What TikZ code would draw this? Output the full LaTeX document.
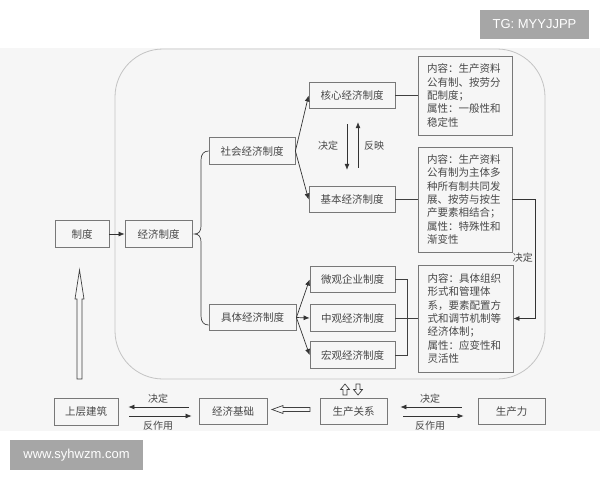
\documentclass[tikz,border=0pt]{standalone}
\usepackage{fontspec}
\newfontfamily\cjk{Noto Sans CJK SC}
\newfontfamily\wm{Liberation Sans}
\usetikzlibrary{calc,arrows.meta}
\definecolor{panel}{RGB}{246,246,246}
\definecolor{boxline}{RGB}{120,120,120}
\definecolor{txt}{RGB}{72,72,72}
\definecolor{wmgray}{RGB}{166,166,166}
\definecolor{frameline}{RGB}{195,195,195}
\begin{document}
\begin{tikzpicture}[x=1pt,y=-1pt,
  box/.style={draw=boxline,line width=0.8pt,text=txt,font=\cjk\fontsize{10.5}{12}\selectfont,inner sep=0pt,minimum height=26.5pt},
  content/.style={draw=boxline,line width=0.8pt,text=txt,font=\cjk\fontsize{10.5}{13.3}\selectfont,text width=76pt,align=left,inner xsep=9pt,inner ysep=0pt,minimum width=94pt},
  arr/.style={draw=black!80,line width=0.7pt,-{Latex[length=6pt,width=5pt]}},
  link/.style={draw=black!75,line width=0.7pt},
  lbl/.style={text=txt,font=\cjk\fontsize{10}{12}\selectfont,inner sep=0pt},
  hollow/.style={draw=black!75,line width=0.7pt,fill=panel,line join=miter},
  wmark/.style={fill=wmgray,text=white,font=\wm\fontsize{13}{15}\selectfont,inner sep=0pt}
]
\useasboundingbox (0,0) rectangle (600,480);
\fill[white] (0,0) rectangle (600,480);
\fill[panel] (0,48) rectangle (600,431);
\draw[frameline,line width=0.8pt,rounded corners=48pt] (115,49) rectangle (545,379);

% watermarks
\node[wmark,minimum width=109pt,minimum height=29pt] (tg) at (534.5,24.5) {TG: MYYJJPP};
\node[wmark,minimum width=133pt,minimum height=30pt] (www) at (76.5,455) {www.syhwzm.com};

% main nodes
\node[box,minimum width=54pt] (zhidu) at (82,234) {制度};
\node[box,minimum width=67pt] (jingji) at (158.5,234) {经济制度};
\node[box,minimum width=86pt] (shehui) at (252,151) {社会经济制度};
\node[box,minimum width=87pt] (juti) at (252.5,317.5) {具体经济制度};
\node[box,minimum width=86pt] (hexin) at (352,95.5) {核心经济制度};
\node[box,minimum width=86pt] (jiben) at (352,199.5) {基本经济制度};
\node[box,minimum width=85pt] (weiguan) at (352.5,279.5) {微观企业制度};
\node[box,minimum width=85pt] (zhongguan) at (352.5,318) {中观经济制度};
\node[box,minimum width=85pt] (hongguan) at (352.5,355) {宏观经济制度};

% content boxes
\node[content,minimum height=79pt] (box1) at (465,95.5) {内容：生产资料\\公有制、按劳分\\配制度；\\属性：一般性和\\稳定性};
\node[content,minimum height=105pt] (box2) at (465,199.5) {内容：生产资料\\公有制为主体多\\种所有制共同发\\展、按劳与按生\\产要素相结合；\\属性：特殊性和\\渐变性};
\node[content,minimum height=107pt,minimum width=95pt] (box3) at (465.5,318.5) {内容：具体组织\\形式和管理体\\系，要素配置方\\式和调节机制等\\经济体制；\\属性：应变性和\\灵活性};

% bottom row
\node[box,minimum width=64pt] (sccj) at (86,412) {上层建筑};
\node[box,minimum width=68pt] (jjjc) at (233,411.5) {经济基础};
\node[box,minimum width=67pt] (scgx) at (353.5,411.5) {生产关系};
\node[box,minimum width=67pt] (scl) at (511.5,411.5) {生产力};

% connectors
\draw[arr] (zhidu.east) -- (jingji.west);
\draw[link] (shehui.west) .. controls (204,151) and (201,154) .. (201,160) -- (201,226)
  .. controls (201,231) and (199,234) .. ($(jingji.east)+(2,0)$)
  .. controls (199,234) and (201,237) .. (201,242) -- (201,316)
  .. controls (201,322) and (204,325) .. ($(juti.west)+(0,7.5)$);
\draw[arr] (shehui.east) -- (hexin.west);
\draw[arr] (shehui.east) -- (jiben.west);
\draw[arr] (juti.east) -- (weiguan.west);
\draw[arr] (juti.east) -- (zhongguan.west);
\draw[arr] (juti.east) -- (hongguan.west);
\draw[arr] ($(hexin.south)+(-5,15)$) -- ($(jiben.north)+(-5,-16)$);
\draw[arr] ($(jiben.north)+(6,-18)$) -- ($(hexin.south)+(6,13)$);
\node[lbl] (jd1) at (328,146) {决定};
\node[lbl] (fy1) at (374,146) {反映};

\draw[link] (hexin.east) -- (hexin.east -| box1.west);
\draw[link] (jiben.east) -- (jiben.east -| box2.west);
\draw[link] (weiguan.east) -- ++(12,0) |- (hongguan.east);
\draw[link] (zhongguan.east) -- (zhongguan.east -| box3.west);
\coordinate (c1) at ($(box2.east)+(23,0)$);
\draw[arr] (box2.east) -- (c1) -- (c1 |- box3.east) -- (box3.east);
\node[lbl,anchor=east] (jd2) at (533,257.5) {决定};

% bottom connectors
\draw[arr] ($(jjjc.west)+(-10,-4.5)$) -- ($(sccj.east)+(10,-5)$);
\draw[arr] ($(sccj.east)+(11,4)$) -- ($(jjjc.west)+(-7,4.5)$);
\node[lbl] (jd3) at (158,399) {决定};
\node[lbl] (fz3) at (158,425.5) {反作用};
\draw[arr] ($(scl.west)+(-16,-4.5)$) -- ($(scgx.east)+(13,-4.5)$);
\draw[arr] ($(scgx.east)+(16,4.5)$) -- ($(scl.west)+(-14,4.5)$);
\node[lbl] (jd4) at (430,399) {决定};
\node[lbl] (fz4) at (430,425.5) {反作用};

% hollow arrows
\draw[hollow] (272,409.5) -- (283,405.5) -- (283,407.5) -- (310,407.5) -- (310,411.5) -- (283,411.5) -- (283,413.5) -- cycle;
\draw[hollow] (79.5,270) -- (84,299) -- (82,299) -- (82,379) -- (77,379) -- (77,299) -- (75,299) -- cycle;
\draw[hollow] (345,384) -- (349.5,389.5) -- (347,389.5) -- (347,395) -- (343,395) -- (343,389.5) -- (340.5,389.5) -- cycle;
\draw[hollow] (358,395) -- (362.5,389.5) -- (360,389.5) -- (360,384) -- (356,384) -- (356,389.5) -- (353.5,389.5) -- cycle;
\end{tikzpicture}
\end{document}
